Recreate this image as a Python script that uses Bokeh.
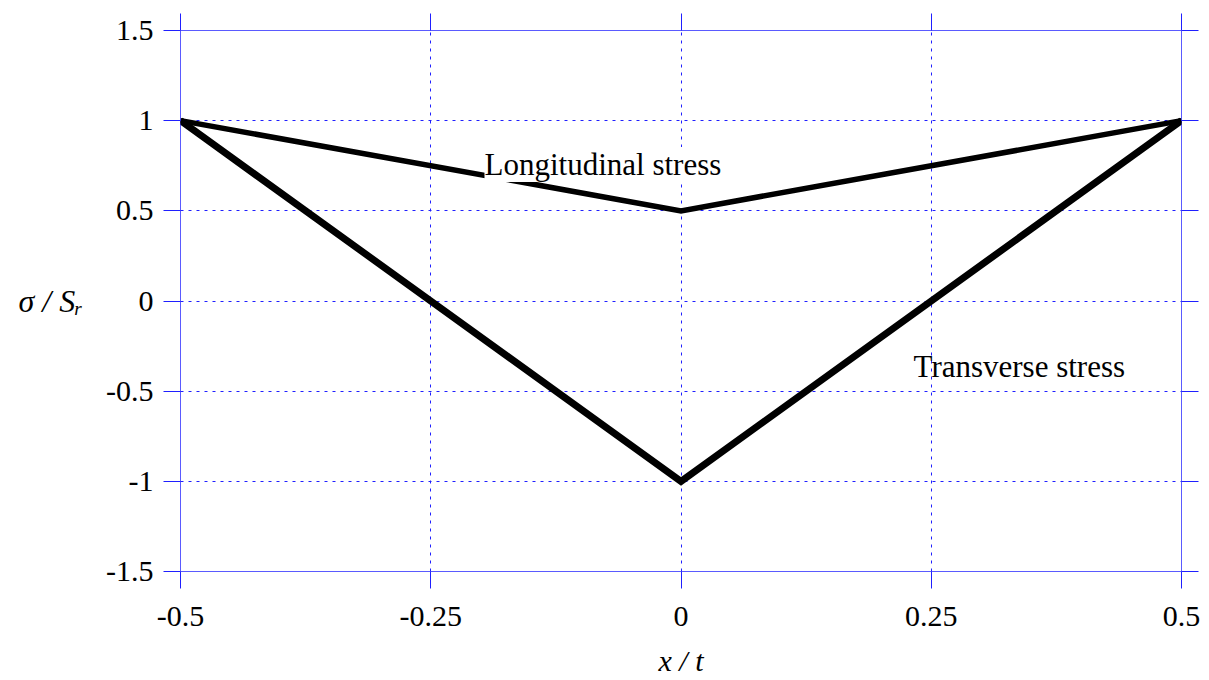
from bokeh.plotting import figure
from bokeh.models import FixedTicker, LinearAxis, Label, Range1d, Grid
from bokeh.embed import file_html
from bokeh.resources import INLINE

# Data
x_pts = [-0.5, 0.0, 0.5]
longitudinal = [1.0, 0.5, 1.0]
transverse = [1.0, -1.0, 1.0]
x_ticks = [-0.5, -0.25, 0.0, 0.25, 0.5]
x_tick_labels = ["-0.5", "-0.25", "0", "0.25", "0.5"]
y_ticks = [-1.5, -1.0, -0.5, 0.0, 0.5, 1.0, 1.5]
y_tick_labels = ["-1.5", "-1", "-0.5", "0", "0.5", "1", "1.5"]

FONT = "Liberation Serif"
BLUE = "#1f1fff"

p = figure(width=1209, height=680, output_backend="svg", toolbar_location=None,
           x_range=Range1d(-0.5, 0.5), y_range=Range1d(-1.5, 1.5),
           min_border_left=180, min_border_right=28, min_border_top=30, min_border_bottom=109,
           x_axis_location=None, y_axis_location=None)
p.background_fill_color = "white"
p.border_fill_color = "white"
p.outline_line_color = "#5a5aff"
p.outline_line_width = 1

def style_axis(ax, ticks, labels, show_labels):
    ax.ticker = FixedTicker(ticks=ticks)
    ax.major_label_overrides = {t: l for t, l in zip(ticks, labels)}
    ax.axis_line_color = None
    ax.major_tick_line_color = BLUE
    ax.major_tick_line_width = 1
    ax.major_tick_out = 17
    ax.major_tick_in = 0
    ax.minor_tick_line_color = None
    ax.major_label_text_font = FONT
    ax.major_label_text_color = "black"
    ax.axis_label_text_font = FONT
    ax.axis_label_text_font_size = "30px"
    ax.axis_label_text_font_style = "italic"
    ax.axis_label_text_color = "black"
    if show_labels:
        ax.major_label_text_font_size = "30px"
    else:
        ax.major_label_text_font_size = "0px"
        ax.major_label_standoff = 0

xb = LinearAxis(axis_label="x / t")
style_axis(xb, x_ticks, x_tick_labels, True)
xb.major_label_standoff = 18
xb.axis_label_standoff = 15
yl = LinearAxis(axis_label="σ / Sᵣ")
style_axis(yl, y_ticks, y_tick_labels, True)
yl.major_label_standoff = 10
yl.axis_label_standoff = 20
yl.axis_label_orientation = "horizontal"
yl.axis_label_text_font_size = "32px"
xt = LinearAxis(); style_axis(xt, x_ticks, x_tick_labels, False)
yr = LinearAxis(); style_axis(yr, y_ticks, y_tick_labels, False)
p.add_layout(xb, "below")
p.add_layout(yl, "left")
p.add_layout(xt, "above")
p.add_layout(yr, "right")

for g in (p.xgrid, p.ygrid):
    g.ticker = FixedTicker(ticks=[])
gx = Grid(dimension=0, ticker=FixedTicker(ticks=x_ticks), grid_line_color=BLUE,
          grid_line_dash="3 5", grid_line_width=1)
gy = Grid(dimension=1, ticker=FixedTicker(ticks=y_ticks), grid_line_color=BLUE,
          grid_line_dash="3 5", grid_line_width=1)
p.add_layout(gx)
p.add_layout(gy)

p.line(x_pts, transverse, line_color="black", line_width=7, line_join="miter")
p.line(x_pts, longitudinal, line_color="black", line_width=5.5, line_join="miter")

p.add_layout(Label(x=-0.1963, y=0.757, text="Longitudinal stress", text_font=FONT,
                   text_font_size="31px", text_color="black", text_baseline="alphabetic",
                   background_fill_color="white", padding=0))
p.add_layout(Label(x=0.2323, y=-0.363, text="Transverse stress", text_font=FONT,
                   text_font_size="31px", text_color="black", text_baseline="alphabetic"))

open("out.html", "w").write(file_html(p, INLINE))
